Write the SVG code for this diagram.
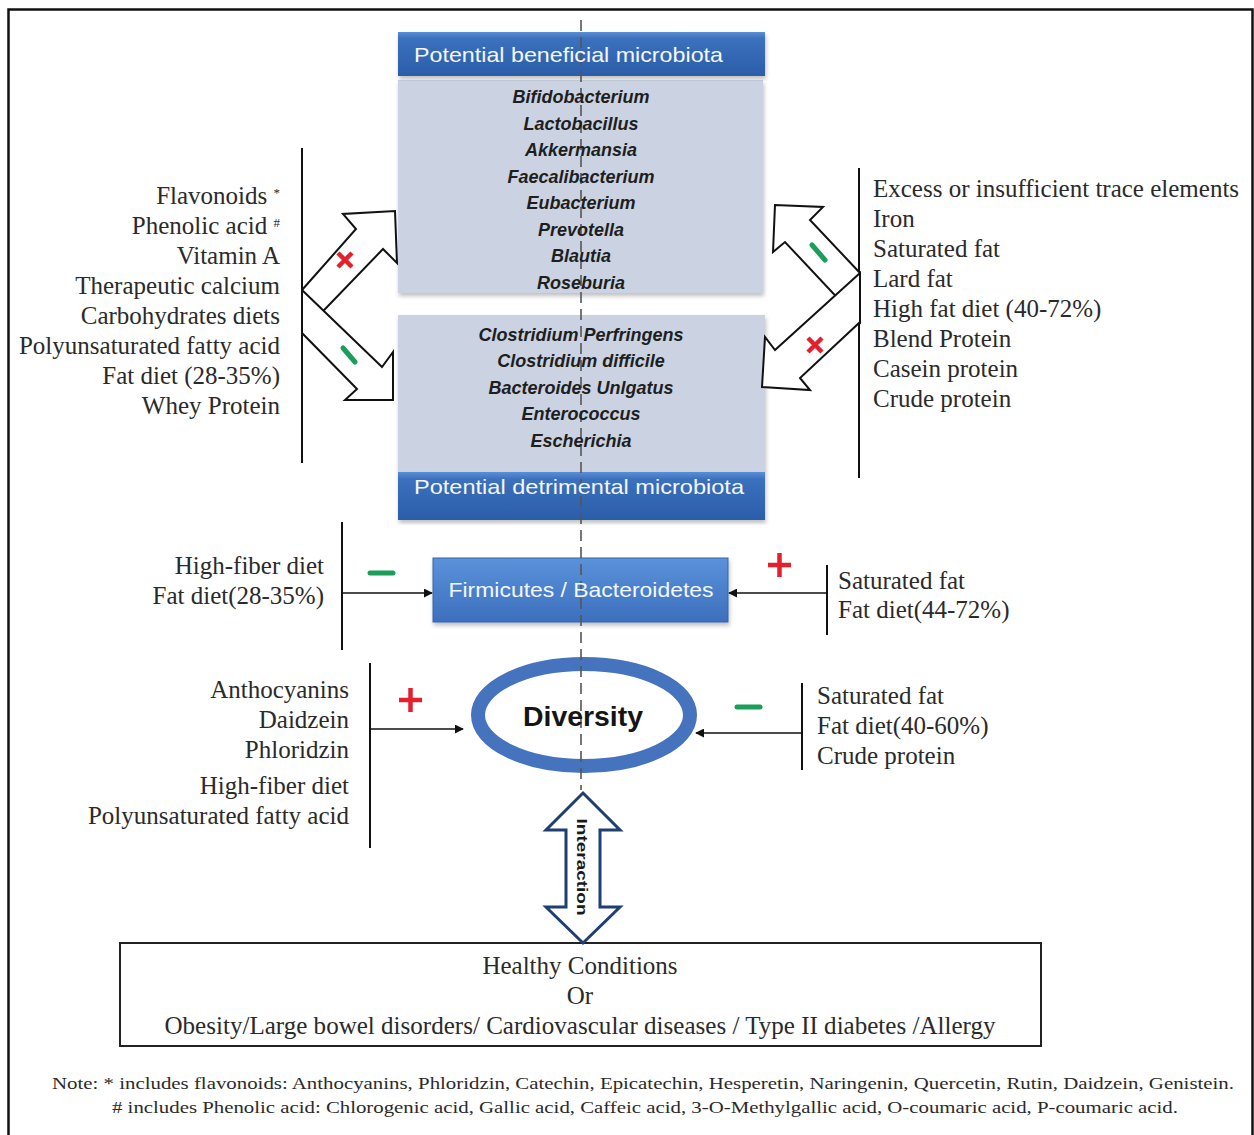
<svg xmlns="http://www.w3.org/2000/svg" width="1254" height="1135" viewBox="0 0 1254 1135">
  <defs>
    <linearGradient id="hdr" x1="0" y1="0" x2="0" y2="1">
      <stop offset="0" stop-color="#5a8fd6"/>
      <stop offset="0.15" stop-color="#3b70bd"/>
      <stop offset="1" stop-color="#2b5ea9"/>
    </linearGradient>
    <linearGradient id="fb" x1="0" y1="0" x2="0" y2="1">
      <stop offset="0" stop-color="#5b92da"/>
      <stop offset="1" stop-color="#3c6fbd"/>
    </linearGradient>
    <filter id="shadow" x="-5%" y="-5%" width="110%" height="115%">
      <feDropShadow dx="1" dy="3" stdDeviation="2" flood-color="#000" flood-opacity="0.25"/>
    </filter>
    <marker id="arr" viewBox="0 0 10 10" refX="9" refY="5" markerWidth="9" markerHeight="9" markerUnits="userSpaceOnUse" orient="auto">
      <path d="M0,0 L10,5 L0,10 z" fill="#111"/>
    </marker>
    <style>
      .serif { font-family: "Liberation Serif", "Times New Roman", serif; fill: #2a2a2a; }
      .list { font-size: 25px; }
      .side { font-size: 25px; }
      .sans { font-family: "Liberation Sans", Arial, sans-serif; }
      .hdrtxt { font-size: 21px; fill: #f4f7fc; }
      .item { font-size: 18px; font-weight: bold; font-style: italic; fill: #1e1e1e; text-anchor: middle; }
      .vline { stroke: #111; stroke-width: 2; }
      .conn { stroke: #111; stroke-width: 1.6; fill: none; marker-end: url(#arr); }
      .block { fill: #fff; stroke: #111; stroke-width: 2; stroke-linejoin: miter; }
      .red { stroke: #e3202c; stroke-width: 4.5; stroke-linecap: butt; fill: none; }
      .green { stroke: #1b9e5a; stroke-width: 5; stroke-linecap: round; fill: none; }
      .dash { stroke: #555; stroke-width: 1.6; stroke-dasharray: 11 6; fill: none; }
    </style>
  </defs>

  <rect width="1254" height="1135" fill="#fff"/>
  <!-- outer frame -->
  <rect x="8.5" y="9.5" width="1244" height="1140" fill="none" stroke="#111" stroke-width="2.5"/>

  <!-- beneficial microbiota box -->
  <g id="beneficial">
    <rect x="398" y="80" width="365" height="213" fill="#cbd3e2" filter="url(#shadow)"/>
    <rect x="398" y="32" width="367" height="44" fill="url(#hdr)" filter="url(#shadow)"/>
  </g>

  <!-- detrimental microbiota box -->
  <g id="detrimental">
    <rect x="398" y="315" width="367" height="157" fill="#cbd3e2" filter="url(#shadow)"/>
    <rect x="398" y="472" width="367" height="48" fill="url(#hdr)" filter="url(#shadow)"/>
  </g>

  <!-- Firmicutes / Bacteroidetes box -->
  <g id="firmicutes">
    <rect x="433" y="558" width="295" height="64" fill="url(#fb)" stroke="#3565ad" stroke-width="1" filter="url(#shadow)"/>
  </g>

  <!-- diversity ring -->
  <g id="diversity">
    <ellipse cx="584" cy="715" rx="106" ry="51" fill="#fff" stroke="#4673be" stroke-width="14"/>
  </g>

  <!-- outcome box -->
  <g id="outcome">
    <rect x="120" y="943" width="921" height="103" fill="#fff" stroke="#222" stroke-width="2"/>
  </g>

  <!-- centre axis -->
  <line class="dash" x1="581" y1="20" x2="581" y2="790"/>

  <!-- box texts -->
  <g id="beneficial-text">
    <text class="sans hdrtxt" x="414" y="62" textLength="309" lengthAdjust="spacingAndGlyphs">Potential beneficial microbiota</text>
    <g class="sans">
      <text class="item" x="581" y="103">Bifidobacterium</text>
      <text class="item" x="581" y="130">Lactobacillus</text>
      <text class="item" x="581" y="156">Akkermansia</text>
      <text class="item" x="581" y="183">Faecalibacterium</text>
      <text class="item" x="581" y="209">Eubacterium</text>
      <text class="item" x="581" y="236">Prevotella</text>
      <text class="item" x="581" y="262">Blautia</text>
      <text class="item" x="581" y="289">Roseburia</text>
    </g>
  </g>
  <g id="detrimental-text">
    <g class="sans">
      <text class="item" x="581" y="341">Clostridium Perfringens</text>
      <text class="item" x="581" y="367">Clostridium difficile</text>
      <text class="item" x="581" y="394">Bacteroides Unlgatus</text>
      <text class="item" x="581" y="420">Enterococcus</text>
      <text class="item" x="581" y="447">Escherichia</text>
    </g>
    <text class="sans hdrtxt" x="414" y="494" textLength="330" lengthAdjust="spacingAndGlyphs">Potential detrimental microbiota</text>
  </g>
  <text class="sans" x="581" y="597" font-size="21" fill="#f4f7fc" text-anchor="middle" textLength="265" lengthAdjust="spacingAndGlyphs">Firmicutes / Bacteroidetes</text>
  <text class="sans" x="583" y="726" font-size="28" font-weight="bold" fill="#151515" text-anchor="middle" textLength="120" lengthAdjust="spacingAndGlyphs">Diversity</text>
  <g class="serif" font-size="25" text-anchor="middle">
    <text x="580" y="974">Healthy Conditions</text>
    <text x="580" y="1004">Or</text>
    <text x="580" y="1034" textLength="831" lengthAdjust="spacingAndGlyphs">Obesity/Large bowel disorders/ Cardiovascular diseases / Type II diabetes /Allergy</text>
  </g>

  <!-- left factor list -->
  <g id="left-factors">
    <line class="vline" x1="302" y1="148" x2="302" y2="463"/>
    <g class="serif list" text-anchor="end">
      <text x="280" y="204">Flavonoids <tspan font-size="13" baseline-shift="super">*</tspan></text>
      <text x="280" y="234">Phenolic acid <tspan font-size="13" baseline-shift="super">#</tspan></text>
      <text x="280" y="264">Vitamin A</text>
      <text x="280" y="294">Therapeutic calcium</text>
      <text x="280" y="324">Carbohydrates diets</text>
      <text x="280" y="354">Polyunsaturated fatty acid</text>
      <text x="280" y="384">Fat diet (28-35%)</text>
      <text x="280" y="414">Whey Protein</text>
    </g>
  </g>

  <!-- right factor list -->
  <g id="right-factors">
    <line class="vline" x1="859" y1="168" x2="859" y2="478"/>
    <g class="serif list">
      <text x="873" y="197">Excess or insufficient trace elements</text>
      <text x="873" y="227">Iron</text>
      <text x="873" y="257">Saturated fat</text>
      <text x="873" y="287">Lard fat</text>
      <text x="873" y="317">High fat diet (40-72%)</text>
      <text x="873" y="347">Blend Protein</text>
      <text x="873" y="377">Casein protein</text>
      <text x="873" y="407">Crude protein</text>
    </g>
  </g>

  <!-- ratio factors -->
  <g id="ratio-left">
    <line class="vline" x1="342" y1="522" x2="342" y2="650"/>
    <g class="serif side" text-anchor="end">
      <text x="324" y="574">High-fiber diet</text>
      <text x="324" y="604">Fat diet(28-35%)</text>
    </g>
  </g>
  <g id="ratio-right">
    <line class="vline" x1="827" y1="565" x2="827" y2="635"/>
    <g class="serif side">
      <text x="838" y="589">Saturated fat</text>
      <text x="838" y="618">Fat diet(44-72%)</text>
    </g>
  </g>

  <!-- diversity factors -->
  <g id="diversity-left">
    <line class="vline" x1="370" y1="663" x2="370" y2="848"/>
    <g class="serif side" text-anchor="end">
      <text x="349" y="698">Anthocyanins</text>
      <text x="349" y="728">Daidzein</text>
      <text x="349" y="758">Phloridzin</text>
      <text x="349" y="794">High-fiber diet</text>
      <text x="349" y="824">Polyunsaturated fatty acid</text>
    </g>
  </g>
  <g id="diversity-right">
    <line class="vline" x1="802" y1="683" x2="802" y2="770"/>
    <g class="serif side">
      <text x="817" y="704">Saturated fat</text>
      <text x="817" y="734">Fat diet(40-60%)</text>
      <text x="817" y="764">Crude protein</text>
    </g>
  </g>

  <!-- connectors -->
  <g id="connectors">
    <!-- block arrows from the left list -->
    <polygon class="block" points="302,290 356,229 343,214 395,211 397,263 383,249 302,333"/>
    <polygon class="block" points="302,290 382,367 393,352 393,400 345,400 357,389 302,333"/>
    <!-- block arrows from the right list -->
    <polygon class="block" points="860,273 810,220 823,207 775,205 773,252 785,242 860,322"/>
    <polygon class="block" points="860,273 775,350 765,337 762,387 810,390 800,378 860,322"/>
    <!-- straight arrows -->
    <line class="conn" x1="342" y1="593" x2="432" y2="593"/>
    <line class="conn" x1="827" y1="593" x2="729" y2="593"/>
    <line class="conn" x1="370" y1="729" x2="463" y2="729"/>
    <line class="conn" x1="802" y1="733" x2="696" y2="733"/>
    <!-- interaction double arrow -->
    <polygon points="583,793 620,830 600,830 600,907 620,907 583,943 546,907 566,907 566,830 546,830" fill="#fff" stroke="#1f3f73" stroke-width="3" stroke-linejoin="miter"/>
    <text class="sans" x="0" y="0" font-size="15" font-weight="bold" fill="#1a1a1a" text-anchor="middle" transform="translate(577,867) rotate(90)" textLength="97" lengthAdjust="spacingAndGlyphs">Interaction</text>
  </g>

  <!-- effect signs -->
  <g id="signs">
    <path class="red" d="M338,253 L352,267 M352,253 L338,267"/>
    <path class="green" d="M343,348 L355,362"/>
    <path class="green" d="M812,245 L825,260"/>
    <path class="red" d="M808,338 L822,352 M822,338 L808,352"/>
    <path class="green" d="M370,573 L393,573"/>
    <path class="red" d="M768,565 L791,565 M779.5,553 L779.5,577"/>
    <path class="red" d="M399,700 L422,700 M410.5,688 L410.5,712"/>
    <path class="green" d="M737,707 L760,707"/>
  </g>

  <!-- footnote -->
  <g class="serif" font-size="17" text-anchor="middle">
    <text x="643" y="1089" textLength="1182" lengthAdjust="spacingAndGlyphs">Note: * includes flavonoids: Anthocyanins, Phloridzin, Catechin, Epicatechin, Hesperetin, Naringenin, Quercetin, Rutin, Daidzein, Genistein.</text>
    <text x="645" y="1113" textLength="1066" lengthAdjust="spacingAndGlyphs"># includes Phenolic acid: Chlorogenic acid, Gallic acid, Caffeic acid, 3-O-Methylgallic acid, O-coumaric acid, P-coumaric acid.</text>
  </g>
</svg>
